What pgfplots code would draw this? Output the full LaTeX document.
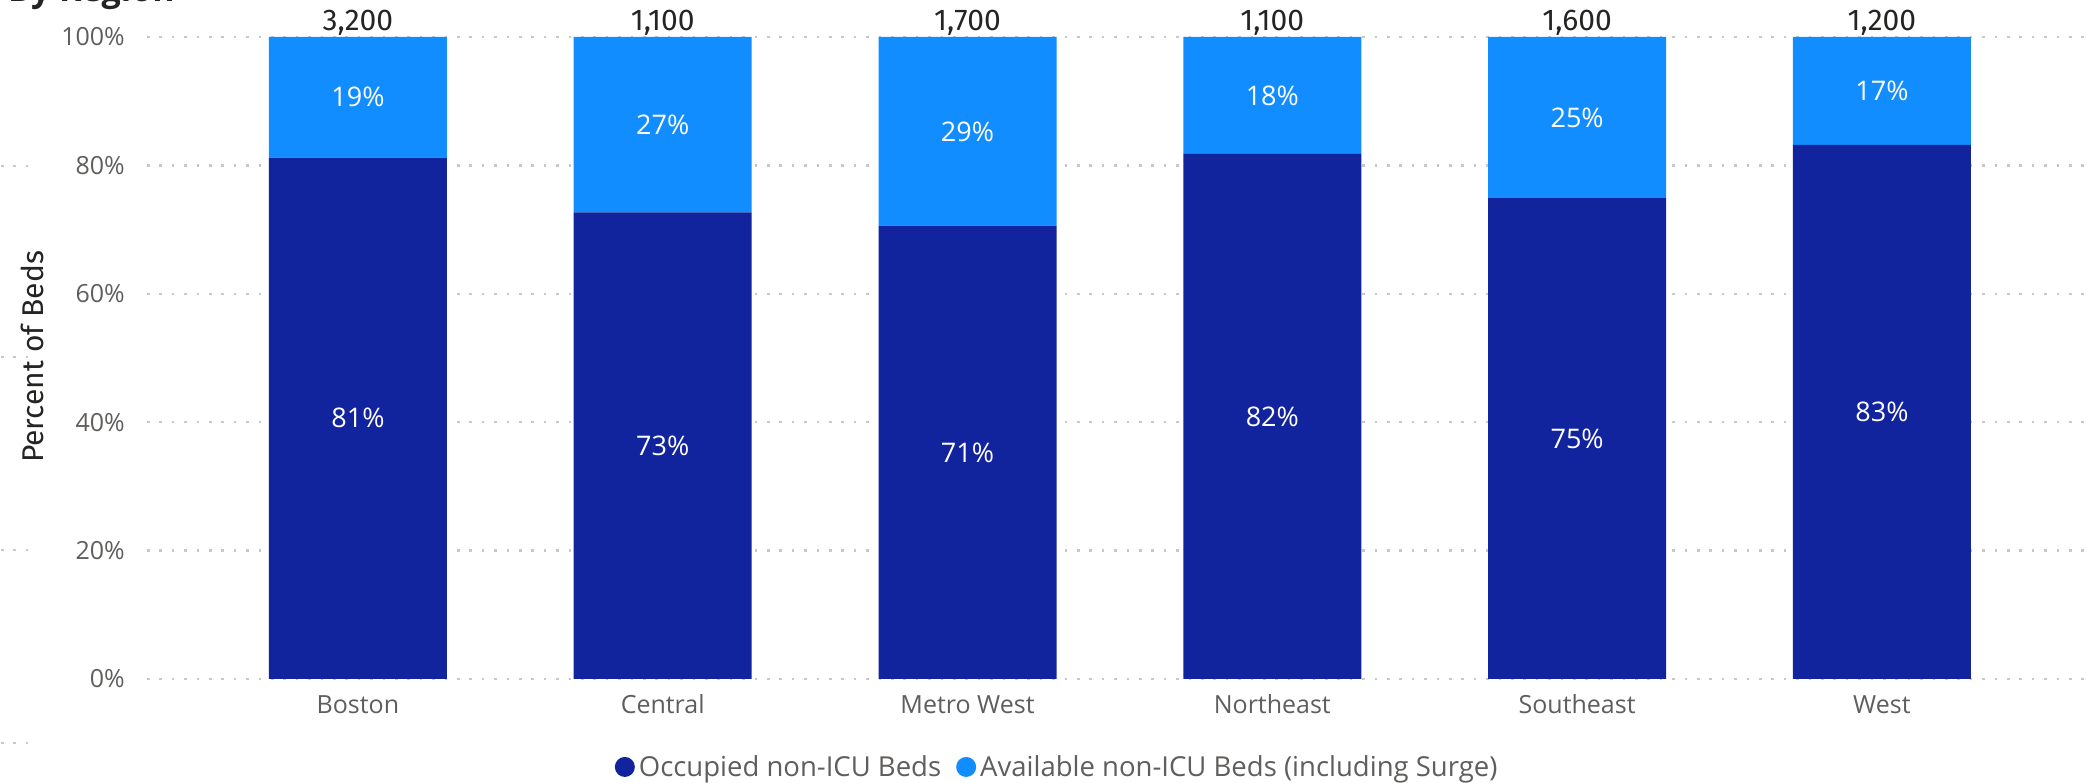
\documentclass[border=0pt]{standalone}
\usepackage{pgfplots}
\pgfplotsset{compat=1.18}
\usepackage{pgfplotstable}
\usepackage{fontspec}
\setmainfont{Open Sans}
\newfontfamily\din{Fira Sans}
\definecolor{occ}{HTML}{12239E}
\definecolor{avail}{HTML}{118DFF}
\definecolor{tickc}{HTML}{605E5C}
\definecolor{darkc}{HTML}{252423}
\definecolor{gridc}{HTML}{C8C8C8}

\pgfplotstableread{
x occ avail occmid availmid occlab availlab total
0 81.2 18.8 40.6  90.6  81 19 3200
1 72.7 27.3 36.35 86.35 73 27 1100
2 70.6 29.4 35.3  85.3  71 29 1700
3 81.8 18.2 40.9  90.9  82 18 1100
4 74.9 25.1 37.45 87.45 75 25 1600
5 83.2 16.8 41.6  91.6  83 17 1200
}\data

\begin{document}
\begin{tikzpicture}
\path[use as bounding box] (0,0) rectangle (2087pt,783pt);
% partial title (cut off at top)
\node[anchor=base west, inner sep=0pt, font=\bfseries\fontsize{34}{40}\selectfont, text=darkc] at (8pt,781pt) {By Region};
% stray grid fragments at left edge
\foreach \yy in {166,357,550,743}{
  \draw[gridc, line width=2.5pt, dash pattern=on 2.5pt off 9.9pt] (1pt,{(783-\yy)*1pt}) -- (32pt,{(783-\yy)*1pt});
}
\begin{axis}[
  at={(147pt,104pt)}, anchor=south west,
  scale only axis, width=1940pt, height=642pt,
  ybar stacked, bar width=0.584,
  xmin=-0.692, xmax=5.673, ymin=0, ymax=100,
  xtick={0,...,5},
  xticklabels={Boston,Central,Metro West,Northeast,Southeast,West},
  ytick={0,20,40,60,80,100},
  yticklabels={0\%,20\%,40\%,60\%,80\%,100\%},
  axis line style={draw=none}, tick style={draw=none},
  ymajorgrids,
  major grid style={gridc, line width=2.5pt, dash pattern=on 2.5pt off 9.9pt},
  yticklabel style={font=\fontsize{25}{30}\selectfont, text=tickc, inner sep=0pt, anchor=east, xshift=-22pt},
  xticklabel style={font=\fontsize{25}{29}\selectfont, text=tickc, inner sep=0pt, anchor=base, yshift=-35pt},
  ylabel={Percent of Beds},
  ylabel style={font=\din\fontsize{30}{34}\selectfont, text=darkc, at={(axis description cs:-0.0588,0.5016)}, anchor=center, inner sep=0pt},
  legend style={at={(axis description cs:0.4686,-0.137)}, anchor=center, draw=none, fill=none,
    legend columns=2, font=\fontsize{27.5}{32}\selectfont, text=tickc, nodes={inner sep=0pt},
    /tikz/every odd column/.append style={column sep=4pt},
    /tikz/every even column/.append style={column sep=15pt}},
  legend cell align=left,
]
\addplot[fill=occ, draw=none, legend image code/.code={\fill[occ] (0pt,0pt) circle (10pt);}] table[x=x,y=occ]{\data};
\addplot[fill=avail, draw=none, legend image code/.code={\fill[avail] (0pt,0pt) circle (10pt);}] table[x=x,y=avail]{\data};
\legend{Occupied non-ICU Beds, Available non-ICU Beds (including Surge)}
\end{axis}
\begin{axis}[
  at={(147pt,104pt)}, anchor=south west,
  scale only axis, width=1940pt, height=642pt,
  xmin=-0.692, xmax=5.673, ymin=0, ymax=100,
  hide axis, clip=false,
  /pgf/number format/assume math mode=true,
]
\addplot[only marks, mark=*, mark size=0pt, mark options={draw=none,fill=none}, point meta=explicit,
  nodes near coords={\pgfmathprintnumber[fixed,precision=0]{\pgfplotspointmeta}\%},
  every node near coord/.append style={anchor=center, text=white, font=\fontsize{27}{31}\selectfont, inner sep=0pt}]
  table[x=x, y=occmid, meta=occlab]{\data};
\addplot[only marks, mark=*, mark size=0pt, mark options={draw=none,fill=none}, point meta=explicit,
  nodes near coords={\pgfmathprintnumber[fixed,precision=0]{\pgfplotspointmeta}\%},
  every node near coord/.append style={anchor=center, text=white, font=\fontsize{27}{31}\selectfont, inner sep=0pt}]
  table[x=x, y=availmid, meta=availlab]{\data};
\addplot[only marks, mark=*, mark size=0pt, mark options={draw=none,fill=none}, point meta=explicit,
  nodes near coords={\pgfmathprintnumber[fixed,precision=0,1000 sep={,}]{\pgfplotspointmeta}},
  every node near coord/.append style={anchor=base, yshift=6pt, text=darkc, font=\din\fontsize{30}{34}\selectfont, inner sep=0pt}]
  table[x=x, y expr=100, meta=total]{\data};
\end{axis}
\end{tikzpicture}
\end{document}
